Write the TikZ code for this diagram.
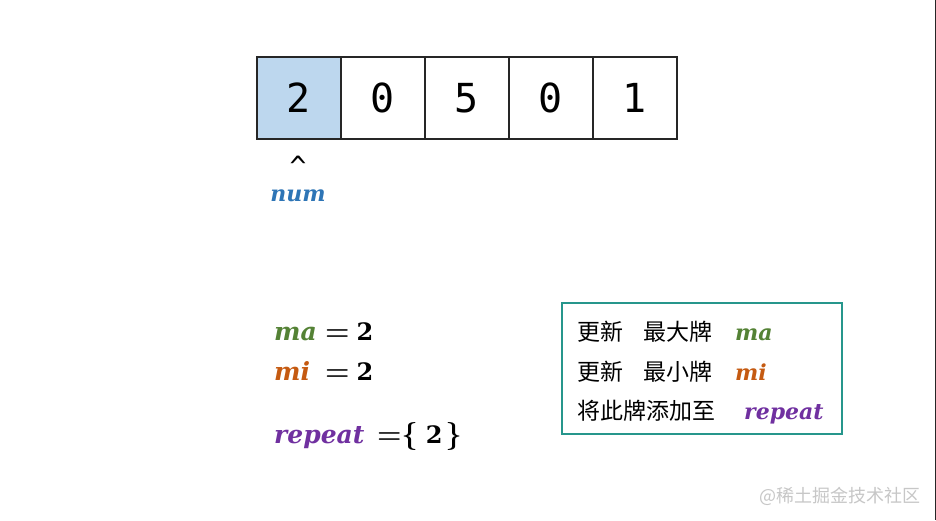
\documentclass[tikz,border=0pt]{standalone}
\usepackage{fontspec}
\usepackage{xcolor}
\newfontfamily\cjk{Noto Sans CJK SC}
\newfontfamily\digitfont{DejaVu Sans Mono}
\newfontfamily\varfont{DejaVu Serif}
\newcommand{\bigtwo}{{\varfont\fontsize{24}{24}\selectfont 2}}
\definecolor{numblue}{RGB}{46,117,182}
\definecolor{magreen}{RGB}{84,130,53}
\definecolor{miorange}{RGB}{197,90,17}
\definecolor{reppurple}{RGB}{112,48,160}
\definecolor{cellblue}{RGB}{189,215,238}
\definecolor{legendteal}{RGB}{38,150,140}

\begin{document}
\begin{tikzpicture}[x=1pt,y=-1pt,
  cell/.style={draw=black!85,line width=2pt,minimum width=84pt,minimum height=82pt,inner sep=0pt,font=\digitfont\fontsize{40}{40}\selectfont},
  var/.style={anchor=base west,inner sep=0pt,font=\varfont\fontsize{25}{25}\selectfont\bfseries\itshape},
  val/.style={anchor=base west,inner sep=0pt,font=\fontsize{28}{28}\selectfont\bfseries},
  legendtext/.style={anchor=base west,inner sep=0pt,font=\cjk\fontsize{23}{23}\selectfont},
  legendvar/.style={anchor=base west,inner sep=0pt,font=\varfont\fontsize{22}{22}\selectfont\bfseries\itshape}]

\useasboundingbox (0,0) rectangle (936,520);
\fill[white] (0,0) rectangle (936,520);
\fill[black!85] (934.6,0) rectangle (936,520);

% the cards
\node[cell,fill=cellblue] (cell1) at (299,98) {2};
\foreach \d/\i in {0/2,5/3,0/4,1/5}{
\node[cell] (cell\i) at ({299+84*(\i-1)},98) {\d};
}
\node[anchor=base,inner sep=0pt,font=\digitfont\fontsize{28}{28}\selectfont] (caret) at (298,176) {\textasciicircum};
\node[anchor=base,inner sep=0pt,text=numblue,font=\varfont\fontsize{22}{22}\selectfont\bfseries\itshape] (num) at (298,201) {num};

% current state
\node[var,text=magreen] (ma) at (274,340) {ma};
\node[val] (maval) at (325,340) {=\hspace{7pt}\bigtwo};
\node[var,text=miorange] (mi) at (274,380) {mi};
\node[val] (mival) at (325,380) {=\hspace{7pt}\bigtwo};
\node[var,text=reppurple] (rep) at (274,443) {repeat};
\node[val] (repval) at (377,443) {=\hspace{0pt}\{\hspace{8pt}\bigtwo\hspace{3pt}\}};

% legend
\node[draw=legendteal,line width=1.4pt,minimum width=280pt,minimum height=131pt] (legend) at (702,368.5) {};
\node[legendtext] (upd1) at (577,340) {更新};
\node[legendtext] (big) at (643,340) {最大牌};
\node[legendvar,text=magreen] (lma) at (735,340) {ma};
\node[legendtext] (upd2) at (577,380) {更新};
\node[legendtext] (small) at (643,380) {最小牌};
\node[legendvar,text=miorange] (lmi) at (735,380) {mi};
\node[legendtext] (add) at (577,419) {将此牌添加至};
\node[legendvar,text=reppurple] (lrep) at (744,419) {repeat};

\node[anchor=west,inner sep=0pt,text=black!22,font=\cjk\fontsize{18}{18}\selectfont] (mark) at (759,496) {@稀土掘金技术社区};
\end{tikzpicture}
\end{document}
